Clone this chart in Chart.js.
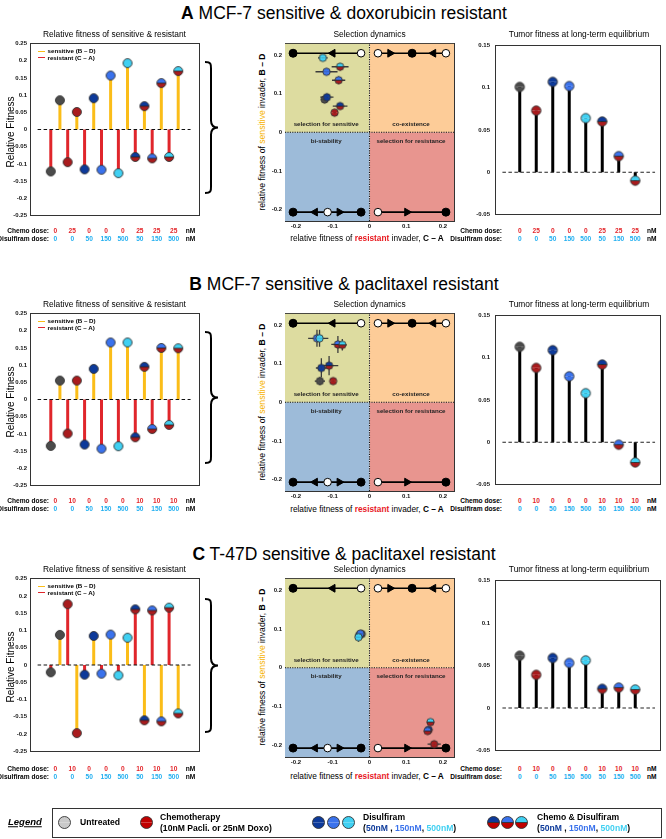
<!DOCTYPE html>
<html>
<head>
<meta charset="utf-8">
<script src="https://cdn.jsdelivr.net/npm/chart.js@4.4.0/dist/chart.umd.min.js"></script>
<style>
body{margin:0;background:#fff;font-family:"Liberation Sans",Arial,sans-serif;}
#fig{position:relative;width:666px;height:839px;overflow:hidden;background:#fff}
#fig canvas{position:absolute}
.t{position:absolute;white-space:nowrap;line-height:1;color:#000}
</style>
</head>
<body>
<div id="fig"></div>
<script>
// dose tick labels
const doseChemoA = ['0', '25', '0', '0', '0', '25', '25', '25'];
const doseChemoBC = ['0', '10', '0', '0', '0', '10', '10', '10'];
const doseDisulfiram = ['0', '0', '50', '150', '500', '50', '150', '500'];

// A: MCF-7 sensitive & doxorubicin resistant
const sensA = [0.085, 0.051, 0.091, 0.157, 0.193, 0.068, 0.135, 0.170];
const resA = [-0.122, -0.095, -0.116, -0.117, -0.127, -0.080, -0.084, -0.080];
const sensErrA = [0.008, 0.004, 0.009, 0.008, 0.008, 0.006, 0.010, 0.010];
const resErrA = [0.010, 0.004, 0.018, 0.030, 0.013, 0.020, 0.018, 0.023];
const tumorA = [0.101, 0.073, 0.107, 0.102, 0.064, 0.060, 0.019, -0.010];

// B: MCF-7 sensitive & paclitaxel resistant
const sensB = [0.055, 0.055, 0.089, 0.166, 0.166, 0.095, 0.150, 0.149];
const resB = [-0.135, -0.099, -0.131, -0.143, -0.136, -0.110, -0.086, -0.074];
const sensErrB = [0.010, 0.006, 0.025, 0.022, 0.022, 0.025, 0.022, 0.015];
const resErrB = [0.014, 0.006, 0.015, 0.024, 0.024, 0.025, 0.018, 0.012];
const tumorB = [0.113, 0.088, 0.109, 0.078, 0.058, 0.092, -0.003, -0.024];

// C: T-47D sensitive & paclitaxel resistant
const sensC = [0.087, -0.197, 0.084, 0.088, 0.079, -0.160, -0.163, -0.140];
const resC = [-0.021, 0.176, -0.028, -0.025, -0.030, 0.161, 0.158, 0.166];
const sensErrC = [0.006, 0.005, 0.010, 0.008, 0.012, 0.008, 0.008, 0.008];
const resErrC = [0.005, 0.018, 0.005, 0.005, 0.005, 0.006, 0.006, 0.008];
const tumorC = [0.0615, 0.039, 0.0588, 0.053, 0.056, 0.0225, 0.024, 0.0217];

// selection dynamics phase lines
const phaseLines = [[-0.208, -0.023, 0.205], [0.023, 0.208, 0.205], [-0.208, -0.023, -0.207], [0.023, 0.208, -0.207]];
const stablePts = [[-0.208, 0.205], [0.116, 0.205], [-0.208, -0.207], [-0.023, -0.207], [0.208, -0.207]];
const unstablePts = [[-0.023, 0.205], [0.023, 0.205], [0.208, 0.205], [-0.114, -0.207], [0.023, -0.207]];
const arrowsLeft = [[-0.100, 0.205], [0.174, 0.205], [-0.148, -0.207]];
const arrowsRight = [[0.056, 0.205], [-0.082, -0.207], [0.102, -0.207]];

const FONT = '"Liberation Sans", Arial, sans-serif';
const C_GREY = '#4b4b4b', C_RED = '#a91b1d', C_D50 = '#0d3a9a', C_D150 = '#3a72ec', C_D500 = '#40d0f2';
const TOPC = [C_GREY, C_RED, C_D50, C_D150, C_D500, C_D50, C_D150, C_D500];
const BOTC = [C_GREY, C_RED, C_D50, C_D150, C_D500, C_RED, C_RED, C_RED];
const DOSE_RED = '#e3262b', DOSE_BLUE = '#22aff0';

const fig = document.getElementById('fig');
const PAD = 6;

function dot(top, bottom, r) {
  const s = Math.ceil(2 * r + 3);
  const c = document.createElement('canvas');
  c.width = c.height = s;
  const g = c.getContext('2d'), m = s / 2;
  g.fillStyle = bottom; g.beginPath(); g.arc(m, m, r, 0, Math.PI); g.fill();
  g.fillStyle = top; g.beginPath(); g.arc(m, m, r, Math.PI, 2 * Math.PI); g.fill();
  if (top !== bottom) {
    g.strokeStyle = '#222'; g.lineWidth = 0.8;
    g.beginPath(); g.moveTo(m - r, m); g.lineTo(m + r, m); g.stroke();
  }
  g.strokeStyle = '#333'; g.lineWidth = 0.9;
  g.beginPath(); g.arc(m, m, r, 0, 2 * Math.PI); g.stroke();
  return c;
}
const dotsBig = TOPC.map((c, i) => dot(c, BOTC[i], 4.5));
const dotsTumor = TOPC.map((c, i) => dot(c, BOTC[i], 4.7));
const dotsSmall = TOPC.map((c, i) => dot(c, BOTC[i], 3.7));

function txt(x, y, html, css, anchor, rot) {
  const d = document.createElement('div');
  d.className = 't';
  d.innerHTML = html;
  d.style.cssText += css || '';
  d.style.left = x + 'px';
  d.style.top = y + 'px';
  const tx = anchor === 'r' ? '-100%' : anchor === 'l' ? '0' : '-50%';
  d.style.transform = 'translate(' + tx + ',-50%)' + (rot ? ' rotate(' + rot + 'deg)' : '');
  fig.appendChild(d);
  return d;
}

const tickFmt = v => String(+v.toFixed(3));
const tickFont = { family: FONT, size: 6, weight: 'bold' };

function scales(xmin, xmax, ymin, ymax, step, showX, padL, padB, yPad) {
  const edge = { display: true, color: '#333', width: 1 };
  const noGrid = { display: false, drawTicks: false, tickLength: 0 };
  return {
    x: { type: 'linear', min: xmin, max: xmax, grid: noGrid, border: edge,
      ticks: { display: showX, stepSize: 0.1, includeBounds: false, font: tickFont, color: '#111', padding: 2, maxRotation: 0, callback: tickFmt },
      afterFit: s => { s.height = padB; } },
    x2: { type: 'linear', axis: 'x', position: 'top', min: xmin, max: xmax, grid: noGrid, border: edge,
      ticks: { display: false }, afterFit: s => { s.height = 0; } },
    y: { type: 'linear', min: ymin, max: ymax, grid: noGrid, border: edge,
      ticks: { stepSize: step, includeBounds: false, font: tickFont, color: '#111', padding: yPad, callback: tickFmt },
      afterFit: s => { s.width = padL; } },
    y2: { type: 'linear', axis: 'y', position: 'right', min: ymin, max: ymax, grid: noGrid, border: edge,
      ticks: { display: false }, afterFit: s => { s.width = 0; } }
  };
}

function makeChart(rect, padL, padB, padR, datasets, sc) {
  const c = document.createElement('canvas');
  const left = rect[0] - padL, top = rect[1] - PAD;
  c.width = rect[2] - rect[0] + padL + padR;
  c.height = rect[3] - rect[1] + PAD + padB;
  c.style.left = left + 'px';
  c.style.top = top + 'px';
  fig.appendChild(c);
  const ch = new Chart(c, {
    type: 'scatter',
    data: { datasets },
    options: {
      responsive: false, animation: false, events: [],
      layout: { padding: { top: PAD, right: padR, bottom: 0, left: 0 } },
      plugins: { legend: { display: false }, tooltip: { enabled: false } },
      scales: sc
    }
  });
  ch.px = v => left + ch.scales.x.getPixelForValue(v);
  ch.py = v => top + ch.scales.y.getPixelForValue(v);
  return ch;
}

function line(data, color, width, dash, order) {
  return { type: 'scatter', showLine: true, data, borderColor: color, borderWidth: width, borderDash: dash || [],
    borderCapStyle: 'butt', pointRadius: 0, tension: 0, order };
}

function stems(xs, vals, off) {
  return vals.flatMap((v, i) => [{ x: xs[i] + off, y: 0 }, { x: xs[i] + off, y: v }, { x: xs[i] + off, y: null }]);
}

const groupX = doseDisulfiram.map((_, i) => 1.5 + i);

function doseRows(ch, chemo, ys, labelX) {
  const b = 'font-size:6.6px;font-weight:bold;';
  txt(labelX, ys[0], 'Chemo dose:', b, 'r');
  txt(labelX, ys[1], 'Disulfiram dose:', b, 'r');
  groupX.forEach((g, i) => {
    txt(ch.px(g), ys[0], chemo[i], b + 'color:' + DOSE_RED);
    txt(ch.px(g), ys[1], doseDisulfiram[i], b + 'color:' + DOSE_BLUE);
  });
  txt(ch.px(9.5), ys[0], 'nM', b);
  txt(ch.px(9.5), ys[1], 'nM', b);
}

function leftPanel(r, res, sens) {
  const rect = [30, r.top, 199, r.bot];
  const pts = [], styles = [];
  res.forEach((v, i) => {
    pts.push({ x: groupX[i] - 0.27, y: v }); styles.push(dotsBig[i]);
    pts.push({ x: groupX[i] + 0.27, y: sens[i] }); styles.push(dotsBig[i]);
  });
  const ds = [
    { data: pts, pointStyle: styles, pointRadius: 5, order: 0 },
    line([{ x: 0.45, y: 0 }, { x: 9.5, y: 0 }], '#111', 1.1, [3.5, 2.5], 1),
    line(stems(groupX, res, -0.27), '#e0262b', 3, null, 2),
    line(stems(groupX, sens, 0.27), '#fbbd18', 3, null, 2)
  ];
  const ch = makeChart(rect, 30, 2, PAD, ds, scales(0, 10, -0.25, 0.25, 0.05, false, 30, 2, 3));
  const mid = (r.top + r.bot) / 2;
  txt(114.5, r.ptitle, 'Relative fitness of sensitive &amp; resistant', 'font-size:8.4px;');
  txt(11, mid, 'Relative Fitness', 'font-size:10px;', 'c', -90);
  // inline legend
  const lg = 'font-size:6.2px;font-weight:bold;';
  const y1 = r.top + 8.3, y2 = r.top + 14.6;
  const bar = (y, col) => { const d = document.createElement('div'); d.style.cssText = 'position:absolute;left:38px;width:7px;height:1.6px;background:' + col + ';top:' + (y - 0.8) + 'px'; fig.appendChild(d); };
  bar(y1, '#fbbd18'); bar(y2, '#e0262b');
  txt(47.5, y1, 'sensitive (B – D)', lg, 'l');
  txt(47.5, y2, 'resistant (C – A)', lg, 'l');
  doseRows(ch, r.chemo, r.dose, 49);
  return ch;
}

function middlePanel(r, res, sens, resErr, sensErr) {
  const rect = [285, r.top, 454, r.bot + 1];
  const L = -0.23, H = 0.23;
  const fillQ = (x0, x1, y, col) => ({ type: 'scatter', showLine: true, data: [{ x: x0, y }, { x: x1, y }],
    fill: 'origin', backgroundColor: col, borderWidth: 0, pointRadius: 0, order: 10 });
  const err = [];
  res.forEach((x, i) => {
    const y = sens[i];
    err.push({ x: x - resErr[i], y }, { x: x + resErr[i], y }, { x, y: null });
    err.push({ x, y: y - sensErr[i] }, { x, y: y + sensErr[i] }, { x, y: null });
  });
  const phase = phaseLines.flatMap(p => [{ x: p[0], y: p[2] }, { x: p[1], y: p[2] }, { x: p[0], y: null }]);
  const toXY = a => a.map(p => ({ x: p[0], y: p[1] }));
  const ds = [
    { data: res.map((x, i) => ({ x, y: sens[i] })), pointStyle: dotsSmall, pointRadius: 4, order: 0 },
    { data: toXY(stablePts), pointRadius: 4, pointBackgroundColor: '#000', pointBorderColor: '#000', pointBorderWidth: 1, order: 1 },
    { data: toXY(unstablePts), pointRadius: 3.8, pointBackgroundColor: '#fff', pointBorderColor: '#000', pointBorderWidth: 1, order: 1 },
    { data: toXY(arrowsLeft), pointStyle: 'triangle', rotation: -90, pointRadius: 4.5, pointBackgroundColor: '#000', pointBorderColor: '#000', order: 1 },
    { data: toXY(arrowsRight), pointStyle: 'triangle', rotation: 90, pointRadius: 4.5, pointBackgroundColor: '#000', pointBorderColor: '#000', order: 1 },
    line(err, '#3b3b3b', 1.3, null, 3),
    line(phase, '#000', 1.6, null, 4),
    line([{ x: 0, y: L }, { x: 0, y: H }], '#111', 1.1, [1.2, 1.2], 5),
    line([{ x: L, y: 0 }, { x: H, y: 0 }], '#111', 1.1, [1.2, 1.2], 5),
    fillQ(L, 0, H, '#dddca0'),
    fillQ(0, H, H, '#fdcc98'),
    fillQ(L, 0, L, '#9dbbd9'),
    fillQ(0, H, L, '#e8958f')
  ];
  const ch = makeChart(rect, 15, 12, PAD, ds, scales(L, H, L, H, 0.1, true, 15, 12, 3));
  const mid = (r.top + r.bot) / 2;
  txt(369.5, r.ptitle, 'Selection dynamics', 'font-size:8.4px;');
  txt(262, mid, 'relative fitness of <span style="color:#f6b300">sensitive</span> invader, <b>B – D</b>', 'font-size:8.6px;', 'c', -90);
  txt(367, r.xlab, 'relative fitness of <b style="color:#e8191f">resistant</b> invader, <b>C – A</b>', 'font-size:8.3px;');
  const q = 'font-size:6.2px;font-weight:bold;color:#222;';
  const y0 = ch.py(0);
  txt(ch.px(-0.118), y0 - 8, 'selection for sensitive', q);
  txt(ch.px(0.113), y0 - 8, 'co-existence', q);
  txt(ch.px(-0.118), y0 + 8.5, 'bi-stability', q);
  txt(ch.px(0.113), y0 + 8.5, 'selection for resistance', q);
  return ch;
}

function rightPanel(r, tumor) {
  const rect = [495, r.top, 663, r.bot + 1];
  const ds = [
    { data: tumor.map((v, i) => ({ x: groupX[i], y: v })), pointStyle: dotsTumor, pointRadius: 5, order: 0 },
    line([{ x: 0.45, y: 0 }, { x: 9.7, y: 0 }], '#222', 1.1, [3.5, 2.5], 1),
    line(stems(groupX, tumor, 0), '#000', 3, null, 2)
  ];
  const ch = makeChart(rect, 23, 2, 3, ds, scales(0, 10, -0.05, 0.15, 0.05, false, 23, 2, 5));
  txt(579, r.ptitle, 'Tumor fitness at long-term equilibrium', 'font-size:8.4px;');
  doseRows(ch, r.chemo, r.dose, 502);
  return ch;
}

const rows = [
  { title: '<b>A</b> MCF-7 sensitive &amp; doxorubicin resistant', ty: 14, ptitle: 34, top: 43, bot: 220, xlab: 238,
    chemo: doseChemoA, dose: [231, 239], brace: [62, 193], res: resA, sens: sensA, resErr: resErrA, sensErr: sensErrA, tumor: tumorA },
  { title: '<b>B</b> MCF-7 sensitive &amp; paclitaxel resistant', ty: 285, ptitle: 304, top: 313, bot: 490, xlab: 509,
    chemo: doseChemoBC, dose: [501, 509], brace: [332, 463], res: resB, sens: sensB, resErr: resErrB, sensErr: sensErrB, tumor: tumorB },
  { title: '<b>C</b> T-47D sensitive &amp; paclitaxel resistant', ty: 555, ptitle: 569, top: 578, bot: 756, xlab: 776,
    chemo: doseChemoBC, dose: [769, 777], brace: [599, 732], res: resC, sens: sensC, resErr: resErrC, sensErr: sensErrC, tumor: tumorC }
];

let svg = '<svg xmlns="http://www.w3.org/2000/svg" width="666" height="839" style="position:absolute;left:0;top:0">';
rows.forEach(r => {
  txt(344, r.ty, r.title, 'font-size:17.5px;');
  leftPanel(r, r.res, r.sens);
  middlePanel(r, r.res, r.sens, r.resErr, r.sensErr);
  rightPanel(r, r.tumor);
  const x = 205, y0 = r.brace[0], y1 = r.brace[1], m = (y0 + y1) / 2;
  svg += '<path d="M' + x + ',' + y0 + ' C' + (x + 7) + ',' + y0 + ' ' + (x + 6) + ',' + (y0 + 3) + ' ' + (x + 6) + ',' + (y0 + 9) +
    ' L' + (x + 6) + ',' + (m - 7) + ' C' + (x + 6) + ',' + (m - 2) + ' ' + (x + 8) + ',' + m + ' ' + (x + 13) + ',' + m +
    ' C' + (x + 8) + ',' + m + ' ' + (x + 6) + ',' + (m + 2) + ' ' + (x + 6) + ',' + (m + 7) +
    ' L' + (x + 6) + ',' + (y1 - 9) + ' C' + (x + 6) + ',' + (y1 - 3) + ' ' + (x + 7) + ',' + y1 + ' ' + x + ',' + y1 +
    '" fill="none" stroke="#000" stroke-width="2"/>';
});
svg += '<rect x="52.5" y="808.5" width="609" height="29" fill="none" stroke="#333" stroke-width="1"/></svg>';
fig.insertAdjacentHTML('beforeend', svg);

// legend
const lb = 'font-size:8.6px;font-weight:bold;';
txt(8, 822, 'Legend', 'font-size:9.5px;font-weight:bold;font-style:italic;text-decoration:underline;', 'l');
const legDot = (x, top, bottom) => {
  const c = dot(top, bottom, 6);
  c.style.left = (x - c.width / 2) + 'px';
  c.style.top = (822 - c.height / 2) + 'px';
  fig.appendChild(c);
};
legDot(64.5, '#c9c9c9', '#c9c9c9');
legDot(146, '#c00000', '#c00000');
[[318.5, C_D50], [333.5, C_D150], [348.3, C_D500]].forEach(p => legDot(p[0], p[1], p[1]));
[[493, C_D50], [507.6, C_D150], [521.7, C_D500]].forEach(p => legDot(p[0], p[1], '#c00000'));
txt(80, 822, 'Untreated', lb, 'l');
txt(160, 817, 'Chemotherapy', lb, 'l');
txt(160, 828, '(10nM Pacli. or 25nM Doxo)', lb, 'l');
const nmRow = '(<span style="color:' + C_D50 + '">50nM</span> , <span style="color:' + C_D150 + '">150nM</span>, <span style="color:' + C_D500 + '">500nM</span>)';
txt(363, 817, 'Disulfiram', lb, 'l');
txt(363, 828, nmRow, lb, 'l');
txt(537, 817, 'Chemo &amp; Disulfiram', lb, 'l');
txt(537, 828, nmRow, lb, 'l');
</script>
</body>
</html>
